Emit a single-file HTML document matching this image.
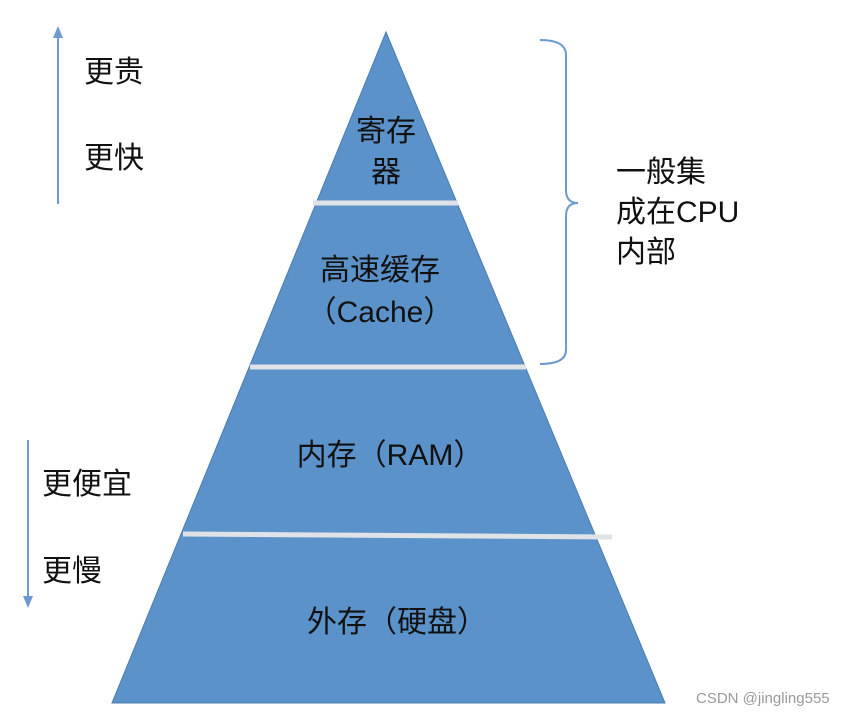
<!DOCTYPE html>
<html><head><meta charset="utf-8"><style>
html,body{margin:0;padding:0;background:#fff;}
svg{display:block;}
text{font-family:"Liberation Sans","Noto Sans CJK SC",sans-serif;fill:#111;}
</style></head><body>
<svg width="856" height="719" viewBox="0 0 856 719" xmlns="http://www.w3.org/2000/svg">
<polygon points="386,32 112,703 665,703" fill="#5b92c9" stroke="#4a7cb0" stroke-width="1"/>
<line x1="313" y1="203" x2="458" y2="203" stroke="#dfe3e8" stroke-width="5"/>
<line x1="250" y1="367" x2="526" y2="367" stroke="#dfe3e8" stroke-width="5"/>
<line x1="183" y1="534" x2="612" y2="537" stroke="#dfe3e8" stroke-width="5"/>
<!-- left arrows -->
<line x1="58" y1="204" x2="58" y2="34" stroke="#6b9bd0" stroke-width="2"/>
<polygon points="58,26 53,38 63,38" fill="#6b9bd0"/>
<line x1="28" y1="440" x2="28" y2="598" stroke="#6b9bd0" stroke-width="2"/>
<polygon points="28,608 23,596 33,596" fill="#6b9bd0"/>
<!-- brace -->
<path d="M540,40 Q566,40 566,55 L566,190 Q566,203 578,203 Q566,203 566,216 L566,350 Q566,364 540,364" fill="none" stroke="#6b9bd0" stroke-width="2"/>
<g font-size="30">
<text x="84" y="82">更贵</text>
<text x="84" y="168">更快</text>
<text x="42" y="494">更便宜</text>
<text x="42" y="581">更慢</text>
<text x="616" y="182">一般集</text>
<text x="616" y="222">成在CPU</text>
<text x="616" y="262">内部</text>
<text x="386" y="141" text-anchor="middle">寄存</text>
<text x="386" y="182" text-anchor="middle">器</text>
<text x="380" y="280" text-anchor="middle">高速缓存</text>
<text x="380" y="322" text-anchor="middle">（Cache）</text>
<text x="390" y="465" text-anchor="middle">内存（RAM）</text>
<text x="397" y="632" text-anchor="middle">外存（硬盘）</text>
</g>
<text x="696" y="703" font-size="15" fill="#999" style="fill:#9a9a9a">CSDN @jingling555</text>
</svg>
</body></html>
